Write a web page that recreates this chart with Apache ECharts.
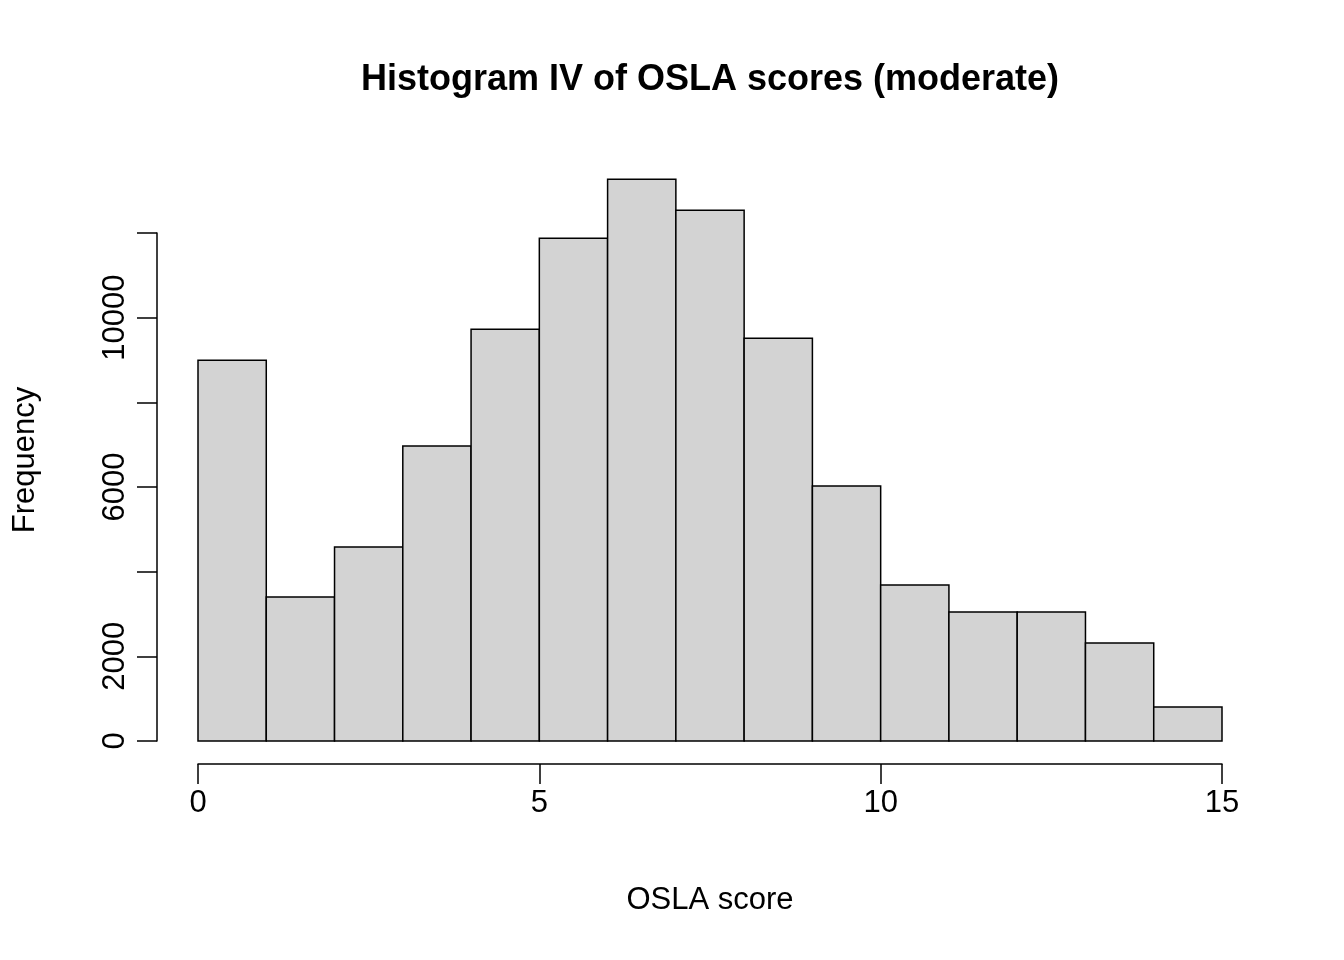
<!DOCTYPE html>
<html><head><meta charset="utf-8">
<script src="https://cdn.jsdelivr.net/npm/echarts@6/dist/echarts.min.js"></script>
<style>body{margin:0}#c{width:1344px;height:960px}</style></head>
<body><div id="c"></div>
<script>
const binStarts = [0,1,2,3,4,5,6,7,8,9,10,11,12,13,14];
const counts = [9007,3404,4586,6974,9740,11891,13286,12553,9527,6028,3688,3050,3050,2317,804];
const xTicks = [0,5,10,15];
const yLabels = [0,2000,6000,10000];
const F = 'Liberation Sans, Arial, sans-serif';
const data = binStarts.map((s,i)=>[s,s+1,counts[i]]);
const chart = echarts.init(document.getElementById('c'));
chart.setOption({
  backgroundColor:'#fff',
  animation:false,
  grid:[{left:198,right:122,top:149,bottom:219},
        {left:157,right:122,top:233,bottom:219},
        {left:198,right:122,top:149,bottom:196}],
  xAxis:[{type:'value',gridIndex:0,min:0,max:15,show:false},
    {type:'value',gridIndex:1,min:0,max:15,show:false},
    {type:'value',gridIndex:2,min:0,max:15,interval:5,
    axisLine:{lineStyle:{color:'#000',width:1.5}},
    axisTick:{length:20,lineStyle:{color:'#000',width:1.5}},
    axisLabel:{margin:24,fontSize:31,fontFamily:F,color:'#000',formatter:v=>xTicks.includes(v)?String(v):''},
    splitLine:{show:false}}],
  yAxis:[{type:'value',gridIndex:0,min:0,max:14000,show:false},
    {type:'value',gridIndex:1,min:0,max:12000,interval:2000,
    axisLine:{show:true,lineStyle:{color:'#000',width:1.5}},
    axisTick:{show:true,length:20,lineStyle:{color:'#000',width:1.5}},
    axisLabel:{rotate:90,margin:26,fontSize:31,fontFamily:F,color:'#000',
      formatter:v=>yLabels.includes(v)?String(v):''},
    splitLine:{show:false}},
    {type:'value',gridIndex:2,min:0,max:14000,show:false}],
  series:[{type:'custom',xAxisIndex:0,yAxisIndex:0,data:data,
    renderItem:(params,api)=>{
      const p0=api.coord([api.value(0),0]);
      const p1=api.coord([api.value(1),api.value(2)]);
      return {type:'rect',shape:{x:p0[0],y:p1[1],width:p1[0]-p0[0],height:p0[1]-p1[1]},
        style:{fill:'#d3d3d3',stroke:'#000',lineWidth:1.5}};
    }}],
  graphic:[
    {type:'text',x:710,y:80,style:{text:'Histogram IV of OSLA scores (moderate)',font:'bold 36px '+F,fill:'#000',textAlign:'center',textVerticalAlign:'middle'}},
    {type:'text',x:710,y:900,style:{text:'OSLA score',font:'31px '+F,fill:'#000',textAlign:'center',textVerticalAlign:'middle'}},
    {type:'text',x:25,y:460,rotation:Math.PI/2,style:{text:'Frequency',font:'31px '+F,fill:'#000',textAlign:'center',textVerticalAlign:'middle'}}
  ]
});
</script></body></html>
